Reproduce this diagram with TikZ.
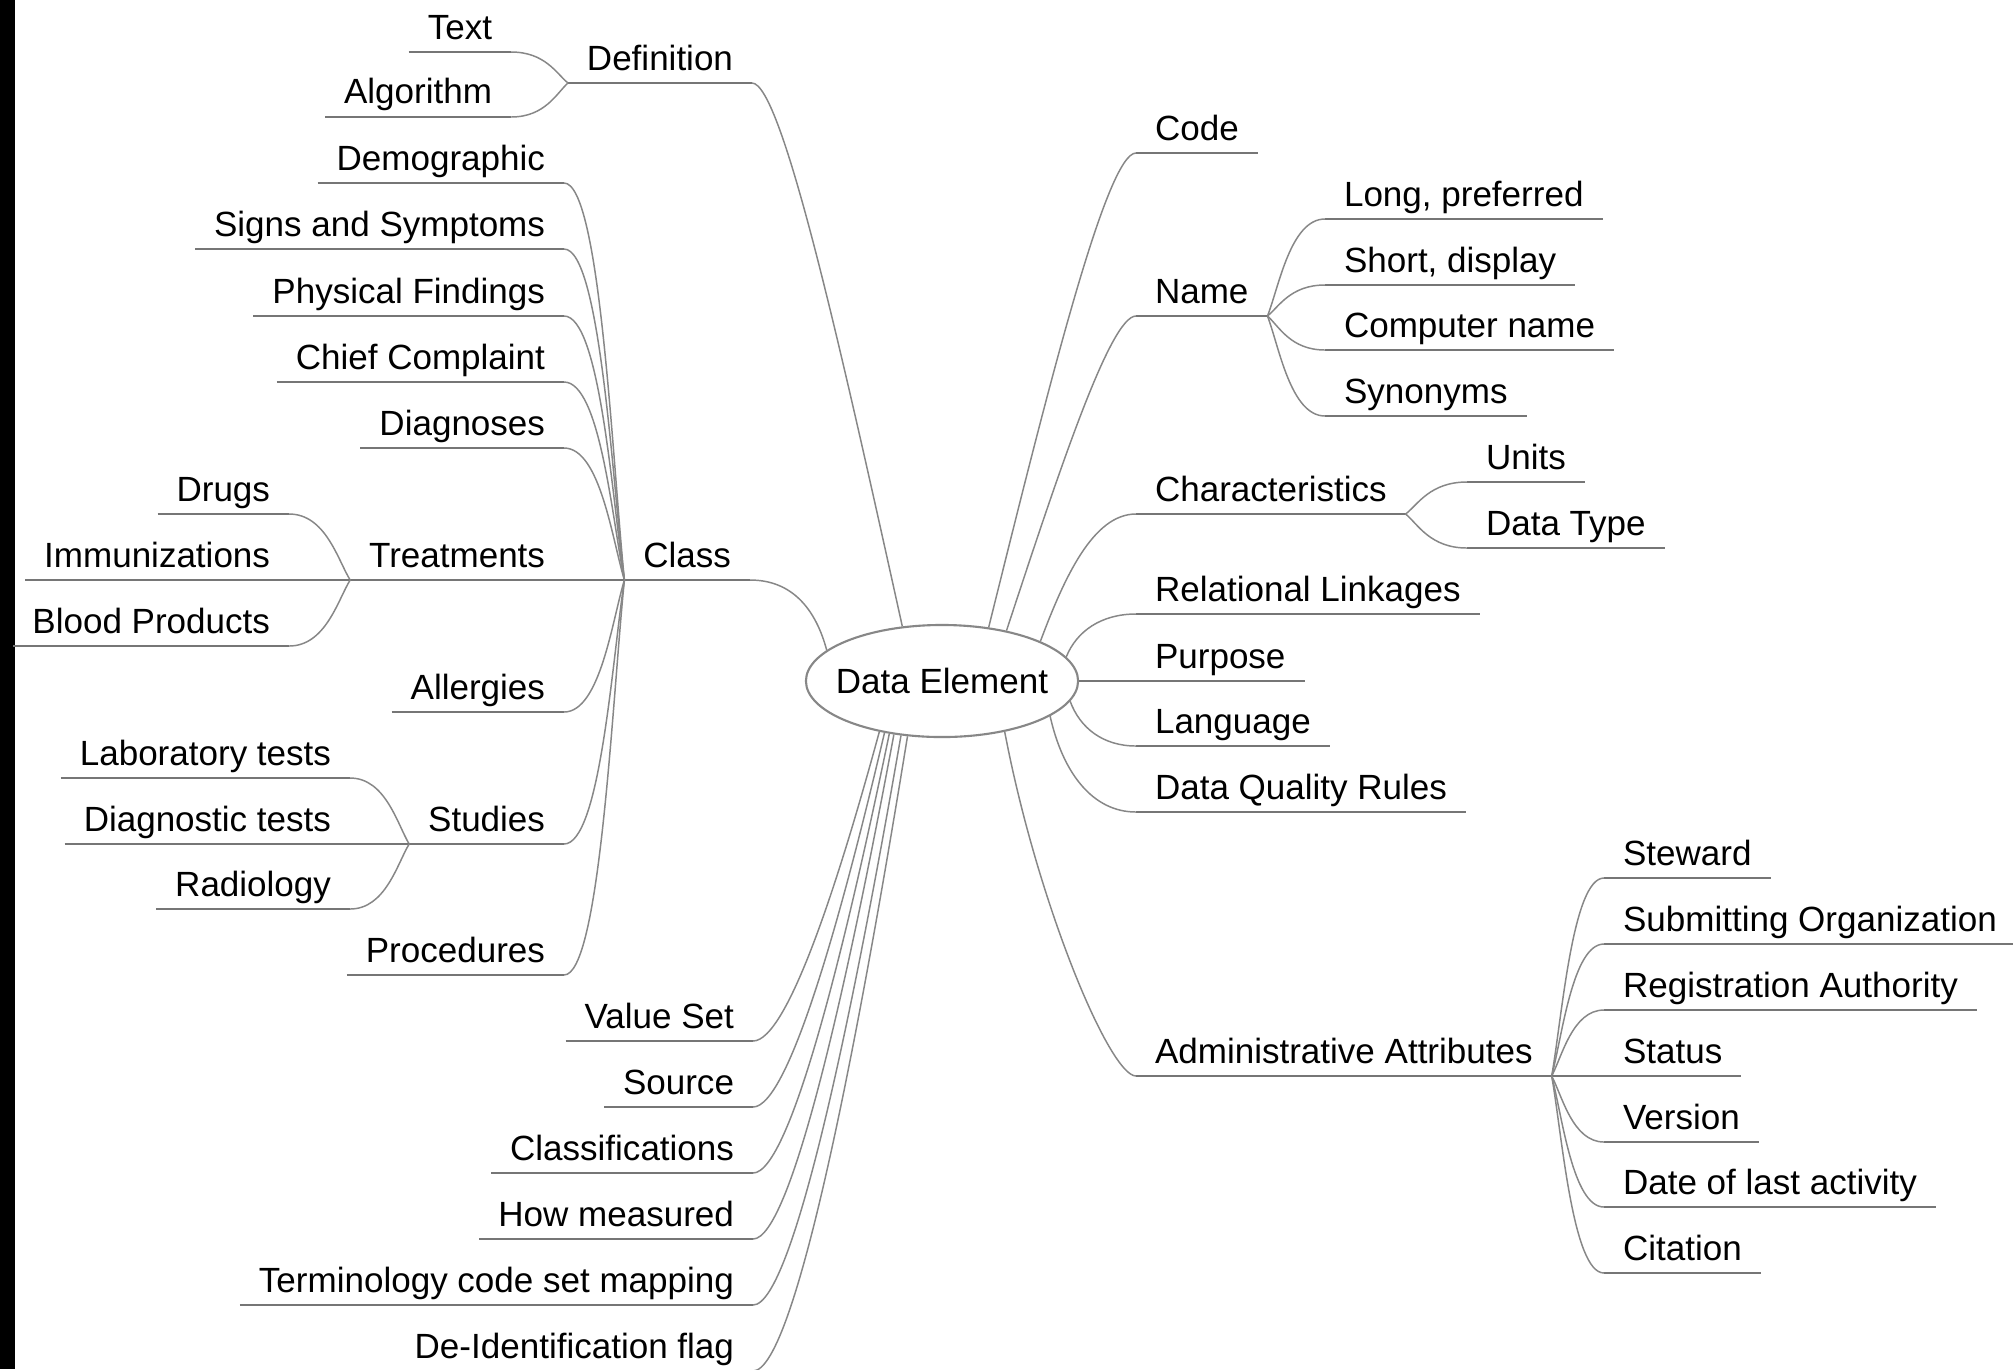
\documentclass[tikz,border=0pt]{standalone}
\usepackage{fontspec}
\setmainfont{Liberation Sans}
\usetikzlibrary{calc,shapes.geometric}
\definecolor{ulc}{RGB}{118,118,118}
\definecolor{cnc}{RGB}{135,135,135}
\newcommand\mmcurve[5]{\draw[conn] let \p1=(#1), \p2=(#2) in (\p1) .. controls +({#3*(\x2-\x1)},{#4*(\y2-\y1)}) and +({-#5*(\x2-\x1)},0pt) .. (\p2);}
\newcommand\mmfork[2]{\mmcurve{#1}{#2}{0.2}{0.3}{0.6}}
\begin{document}
\begin{tikzpicture}[x=0.01cm,y=-0.01cm,
  lbl/.style={font=\fontsize{9.96pt}{12pt}\selectfont, inner xsep=0.19cm, inner ysep=0.13cm, text height=0.25cm, text depth=0pt, outer sep=0pt},
  lt/.style={lbl, anchor=south east},
  rt/.style={lbl, anchor=south west},
  uline/.style={draw=ulc, line width=0.75pt},
  conn/.style={draw=cnc, line width=0.42pt},
]
\fill[white] (0,0) rectangle (2013,1369);
\useasboundingbox (0,0) rectangle (2013,1369);
\fill[black] (0,0) rectangle (15,1369);

% central node
\node[draw=cnc, line width=0.6pt, ellipse, minimum width=2.72cm, minimum height=1.12cm, inner xsep=-0.3cm, inner ysep=0pt, font=\fontsize{9.96pt}{12pt}\selectfont] (de) at (942,681) {Data Element};

% left side
\node[lt] (txt) at (511,52) {Text};
\node[lt] (algo) at (511,117) {Algorithm};
\node[lt] (defn) at (752,83) {Definition};
\node[lt] (demo) at (564,183) {Demographic};
\node[lt] (signs) at (564,249) {Signs and Symptoms};
\node[lt] (phys) at (564,316) {Physical Findings};
\node[lt] (chief) at (564,382) {Chief Complaint};
\node[lt] (diag) at (564,448) {Diagnoses};
\node[lt] (treat) at (564,580) {Treatments};
\node[lt] (allerg) at (564,712) {Allergies};
\node[lt] (studies) at (564,844) {Studies};
\node[lt] (proc) at (564,975) {Procedures};
\node[lt] (class) at (750,580) {Class};
\node[lt] (drugs) at (289,514) {Drugs};
\node[lt] (immun) at (289,580) {Immunizations};
\node[lt] (blood) at (289,646) {Blood Products};
\node[lt] (lab) at (350,778) {Laboratory tests};
\node[lt] (dtests) at (350,844) {Diagnostic tests};
\node[lt] (radio) at (350,909) {Radiology};
\node[lt] (vset) at (753,1041) {Value Set};
\node[lt] (source) at (753,1107) {Source};
\node[lt] (classif) at (753,1173) {Classifications};
\node[lt] (howm) at (753,1239) {How measured};
\node[lt] (termi) at (753,1305) {Terminology code set mapping};
\node[lt] (deid) at (753,1371) {De-Identification flag};

% right side
\node[rt] (code) at (1136,153) {Code};
\node[rt] (name) at (1136,316) {Name};
\node[rt] (charac) at (1136,514) {Characteristics};
\node[rt] (rel) at (1136,614) {Relational Linkages};
\node[rt] (purp) at (1136,681) {Purpose};
\node[rt] (lang) at (1136,746) {Language};
\node[rt] (dqr) at (1136,812) {Data Quality Rules};
\node[rt] (admin) at (1136,1076) {Administrative Attributes};
\node[rt] (longp) at (1325,219) {Long, preferred};
\node[rt] (short) at (1325,285) {Short, display};
\node[rt] (comp) at (1325,350) {Computer name};
\node[rt] (syn) at (1325,416) {Synonyms};
\node[rt] (units) at (1467,482) {Units};
\node[rt] (dtype) at (1467,548) {Data Type};
\node[rt] (stew) at (1604,878) {Steward};
\node[rt] (subm) at (1604,944) {Submitting Organization};
\node[rt] (regi) at (1604,1010) {Registration Authority};
\node[rt] (status) at (1604,1076) {Status};
\node[rt] (vers) at (1604,1142) {Version};
\node[rt] (date) at (1604,1207) {Date of last activity};
\node[rt] (cit) at (1604,1273) {Citation};

% underlines
\foreach \n in {txt,algo,defn,demo,signs,phys,chief,diag,treat,allerg,studies,proc,class,drugs,immun,blood,lab,dtests,radio,vset,source,classif,howm,termi,deid,code,name,charac,rel,purp,lang,dqr,admin,longp,short,comp,syn,units,dtype,stew,subm,regi,status,vers,date,cit}
  \draw[uline] (\n.south west) -- (\n.south east);

% forks, left
\mmfork{defn.south west}{txt.south east}
\mmfork{defn.south west}{algo.south east}
\mmfork{class.south west}{demo.south east}
\mmfork{class.south west}{signs.south east}
\mmfork{class.south west}{phys.south east}
\mmfork{class.south west}{chief.south east}
\mmfork{class.south west}{diag.south east}
\draw[uline] (treat.south east) -- (class.south west);
\mmfork{class.south west}{allerg.south east}
\mmfork{class.south west}{studies.south east}
\mmfork{class.south west}{proc.south east}
\mmfork{treat.south west}{drugs.south east}
\draw[uline] (immun.south east) -- (treat.south west);
\mmfork{treat.south west}{blood.south east}
\mmfork{studies.south west}{lab.south east}
\draw[uline] (dtests.south east) -- (studies.south west);
\mmfork{studies.south west}{radio.south east}

% forks, right
\mmfork{name.south east}{longp.south west}
\mmfork{name.south east}{short.south west}
\mmfork{name.south east}{comp.south west}
\mmfork{name.south east}{syn.south west}
\mmfork{charac.south east}{units.south west}
\mmfork{charac.south east}{dtype.south west}
\mmfork{admin.south east}{stew.south west}
\mmfork{admin.south east}{subm.south west}
\mmfork{admin.south east}{regi.south west}
\draw[uline] (admin.south east) -- (status.south west);
\mmfork{admin.south east}{vers.south west}
\mmfork{admin.south east}{date.south west}
\mmfork{admin.south east}{cit.south west}

% from the central node
\mmcurve{de.126}{defn.south east}{0.4}{0.5}{0.2}
\mmcurve{de.165}{class.south east}{0.14}{0.57}{0.56}
\mmcurve{de.49}{code.south west}{0.4}{0.5}{0.2}
\mmcurve{de.38}{name.south west}{0.4}{0.5}{0.2}
\mmcurve{de.22}{charac.south west}{0.25}{0.5}{0.45}
\mmcurve{de.11}{rel.south west}{0.15}{0.6}{0.5}
\draw[uline] (de.east) -- (purp.south west);
\mmcurve{de.-9}{lang.south west}{0.15}{0.6}{0.5}
\mmcurve{de.-18}{dqr.south west}{0.15}{0.6}{0.5}
\mmcurve{de.-39}{admin.south west}{0.25}{0.5}{0.2}
\mmcurve{de.-141}{vset.south east}{0.3}{0.45}{0.28}
\mmcurve{de.-138}{source.south east}{0.3}{0.45}{0.28}
\mmcurve{de.-135}{classif.south east}{0.3}{0.45}{0.28}
\mmcurve{de.-132}{howm.south east}{0.3}{0.45}{0.28}
\mmcurve{de.-127}{termi.south east}{0.3}{0.45}{0.28}
\mmcurve{de.-122}{deid.south east}{0.3}{0.45}{0.28}
\end{tikzpicture}
\end{document}
